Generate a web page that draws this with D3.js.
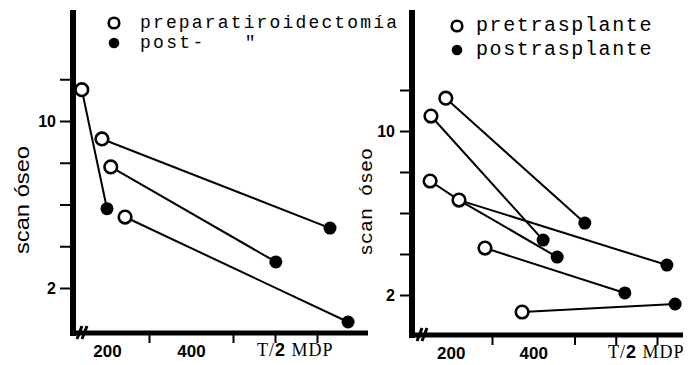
<!DOCTYPE html>
<html><head><meta charset="utf-8">
<script src="https://cdn.jsdelivr.net/npm/d3@7"></script>
<style>
html,body{margin:0;padding:0;background:#fff;}
svg{display:block;}
</style></head>
<body>
<svg id="chart" width="693" height="365"></svg>
<script>
// ---- data (T1/2 MDP vs scan óseo) ----
const leftLegend = ["preparatiroidectomía", "post-   \""];
const rightLegend = ["pretrasplante", "postrasplante"];
const yTickValues = [2, 4, 6, 8, 10, 12];
const yTickLabels = [2, 10];
const xTickValues = [200, 300, 400, 500, 600, 700];
const xTickLabels = [200, 400];
const xAxisTitle = ["T/", "2", " MDP"];
const yAxisTitle = "scan óseo";

// left panel (paratiroidectomía)
const leftPreT  = [140, 188, 209, 243];
const leftPreS  = [11.5, 9.14, 7.8, 5.4];
const leftPostT = [200, 731, 602, 774];
const leftPostS = [5.8, 4.87, 3.25, 0.37];
const leftLinks = [["pre",0,"post",0],["pre",1,"post",1],["pre",2,"post",2],["pre",3,"post",3]];

// right panel (trasplante)
const rightPreT  = [188, 152, 150, 220, 283, 373];
const rightPreS  = [11.6, 10.73, 7.56, 6.63, 4.29, 1.17];
const rightPostT = [525, 424, 458, 724, 622, 744];
const rightPostS = [5.51, 4.68, 3.85, 3.46, 2.10, 1.56];
const rightLinks = [["pre",0,"post",0],["pre",1,"post",1],["pre",2,"pre",3],
                    ["pre",3,"post",2],["pre",3,"post",3],["pre",4,"post",4],["pre",5,"post",5]];

const svg = d3.select("#chart");

function panel(cfg) {
  const x = d3.scaleLinear().domain([300, 700]).range(cfg.xRange);
  const y = d3.scaleLinear().domain([2, 10]).range(cfg.yRange);
  const g = svg.append("g");
  const pts = {
    pre: cfg.preT.map((t, i) => ({t, s: cfg.preS[i]})),
    post: cfg.postT.map((t, i) => ({t, s: cfg.postS[i]}))
  };

  // y axis ticks
  const ya = g.append("g").attr("transform", `translate(${cfg.axX},0)`)
    .call(d3.axisLeft(y).tickValues(yTickValues).tickSize(cfg.yTick).tickPadding(cfg.yPad)
      .tickFormat(d => yTickLabels.includes(d) ? d : ""));
  ya.select(".domain").remove();
  ya.selectAll(".tick line").attr("stroke", "#000").attr("stroke-width", 2);
  ya.selectAll(".tick text").attr("font-family", "Liberation Sans, Arial, sans-serif")
    .attr("font-weight", "bold").attr("font-size", 16).attr("fill", "#000");

  // x axis ticks
  const xa = g.append("g").attr("transform", `translate(0,${cfg.axY})`)
    .call(d3.axisBottom(x).tickValues(xTickValues).tickSize(10).tickPadding(2)
      .tickFormat(d => xTickLabels.includes(d) ? d : ""));
  xa.select(".domain").remove();
  xa.selectAll(".tick line").attr("stroke", "#000").attr("stroke-width", 2)
    .attr("opacity", d => xTickLabels.includes(d) ? 0 : 1);
  xa.selectAll(".tick text").attr("font-family", "Liberation Sans, Arial, sans-serif")
    .attr("font-weight", "bold").attr("font-size", 17).attr("fill", "#000")
    .attr("dy", "0.95em").attr("y", 8);

  // thick axis lines
  g.append("line").attr("x1", cfg.axX).attr("x2", cfg.axX).attr("y1", cfg.axTop).attr("y2", cfg.axY + 3)
    .attr("stroke", "#000").attr("stroke-width", 6);
  g.append("line").attr("x1", cfg.axX - 3).attr("x2", cfg.axRight).attr("y1", cfg.axY).attr("y2", cfg.axY)
    .attr("stroke", "#000").attr("stroke-width", 5);

  // axis break marks
  [0, 5].forEach(dx => {
    g.append("line").attr("x1", cfg.brkX + dx - 3).attr("y1", cfg.axY + 6)
      .attr("x2", cfg.brkX + dx + 2).attr("y2", cfg.axY - 7)
      .attr("stroke", "#000").attr("stroke-width", 3);
  });

  // x axis title
  const xt = g.append("text").attr("x", cfg.xtX).attr("y", cfg.axY + 23)
    .attr("font-family", "Liberation Serif, Times New Roman, serif").attr("font-size", 18)
    .attr("letter-spacing", 1).attr("fill", "#000")
    .attr("xml:space", "preserve").style("white-space", "pre");
  xAxisTitle.forEach((s, i) => {
    const ts = xt.append("tspan").text(s);
    if (i === 1) ts.attr("font-family", "Liberation Sans, Arial, sans-serif").attr("font-weight", "bold");
  });

  // y axis title
  g.append("text").attr("transform", `translate(${cfg.ytX},${cfg.ytY}) rotate(-90)`)
    .attr("text-anchor", "middle").attr("font-family", cfg.ytFont).attr("font-size", cfg.ytSize)
    .attr("textLength", 108).attr("lengthAdjust", "spacingAndGlyphs")
    .attr("fill", "#000").text(yAxisTitle);

  // connecting lines
  g.append("g").selectAll("line").data(cfg.links).join("line")
    .attr("x1", d => x(pts[d[0]][d[1]].t)).attr("y1", d => y(pts[d[0]][d[1]].s))
    .attr("x2", d => x(pts[d[2]][d[3]].t)).attr("y2", d => y(pts[d[2]][d[3]].s))
    .attr("stroke", "#000").attr("stroke-width", 2);

  // points
  g.append("g").selectAll("circle").data(pts.post).join("circle")
    .attr("cx", d => x(d.t)).attr("cy", d => y(d.s)).attr("r", 6.5).attr("fill", "#000");
  g.append("g").selectAll("circle").data(pts.pre).join("circle")
    .attr("cx", d => x(d.t)).attr("cy", d => y(d.s)).attr("r", 6.3)
    .attr("fill", "#fff").attr("stroke", "#000").attr("stroke-width", 2.6);

  // legend
  const lg = g.append("g");
  cfg.legend.forEach((txt, i) => {
    const cy = cfg.lgY + i * cfg.lgGap;
    lg.append("circle").attr("cx", cfg.lgX).attr("cy", cy).attr("r", 5.3)
      .attr("fill", i === 0 ? "#fff" : "#000").attr("stroke", "#000").attr("stroke-width", i === 0 ? 2.6 : 0);
    const t = lg.append("text").attr("x", cfg.lgTextX).attr("y", cy + 5)
      .attr("font-family", "Liberation Mono, Courier New, monospace").attr("font-size", cfg.lgSize)
      .attr("fill", "#000").attr("xml:space", "preserve").style("white-space", "pre").text(txt);
    t.attr("textLength", txt.length * cfg.lgChar).attr("lengthAdjust", "spacing");
  });
}

panel({
  xRange: [149, 317], yRange: [288, 121],
  preT: leftPreT, preS: leftPreS, postT: leftPostT, postS: leftPostS, links: leftLinks,
  axX: 73, axY: 333, axTop: 10, axRight: 368, yTick: 13, yPad: 4, brkX: 80,
  xtX: 257, ytX: 29, ytY: 200, ytFont: "Liberation Sans, Arial, sans-serif", ytSize: 20,
  legend: leftLegend, lgX: 114, lgY: 23, lgGap: 20, lgTextX: 140, lgSize: 18, lgChar: 12.85
});

panel({
  xRange: [492, 657], yRange: [295, 131],
  preT: rightPreT, preS: rightPreS, postT: rightPostT, postS: rightPostS, links: rightLinks,
  axX: 412, axY: 335, axTop: 10, axRight: 683, yTick: 12, yPad: 5, brkX: 420,
  xtX: 608, ytX: 372, ytY: 202, ytFont: "Liberation Mono, Courier New, monospace", ytSize: 19,
  legend: rightLegend, lgX: 457, lgY: 26, lgGap: 24, lgTextX: 476, lgSize: 20, lgChar: 13.5
});
</script>
</body></html>
